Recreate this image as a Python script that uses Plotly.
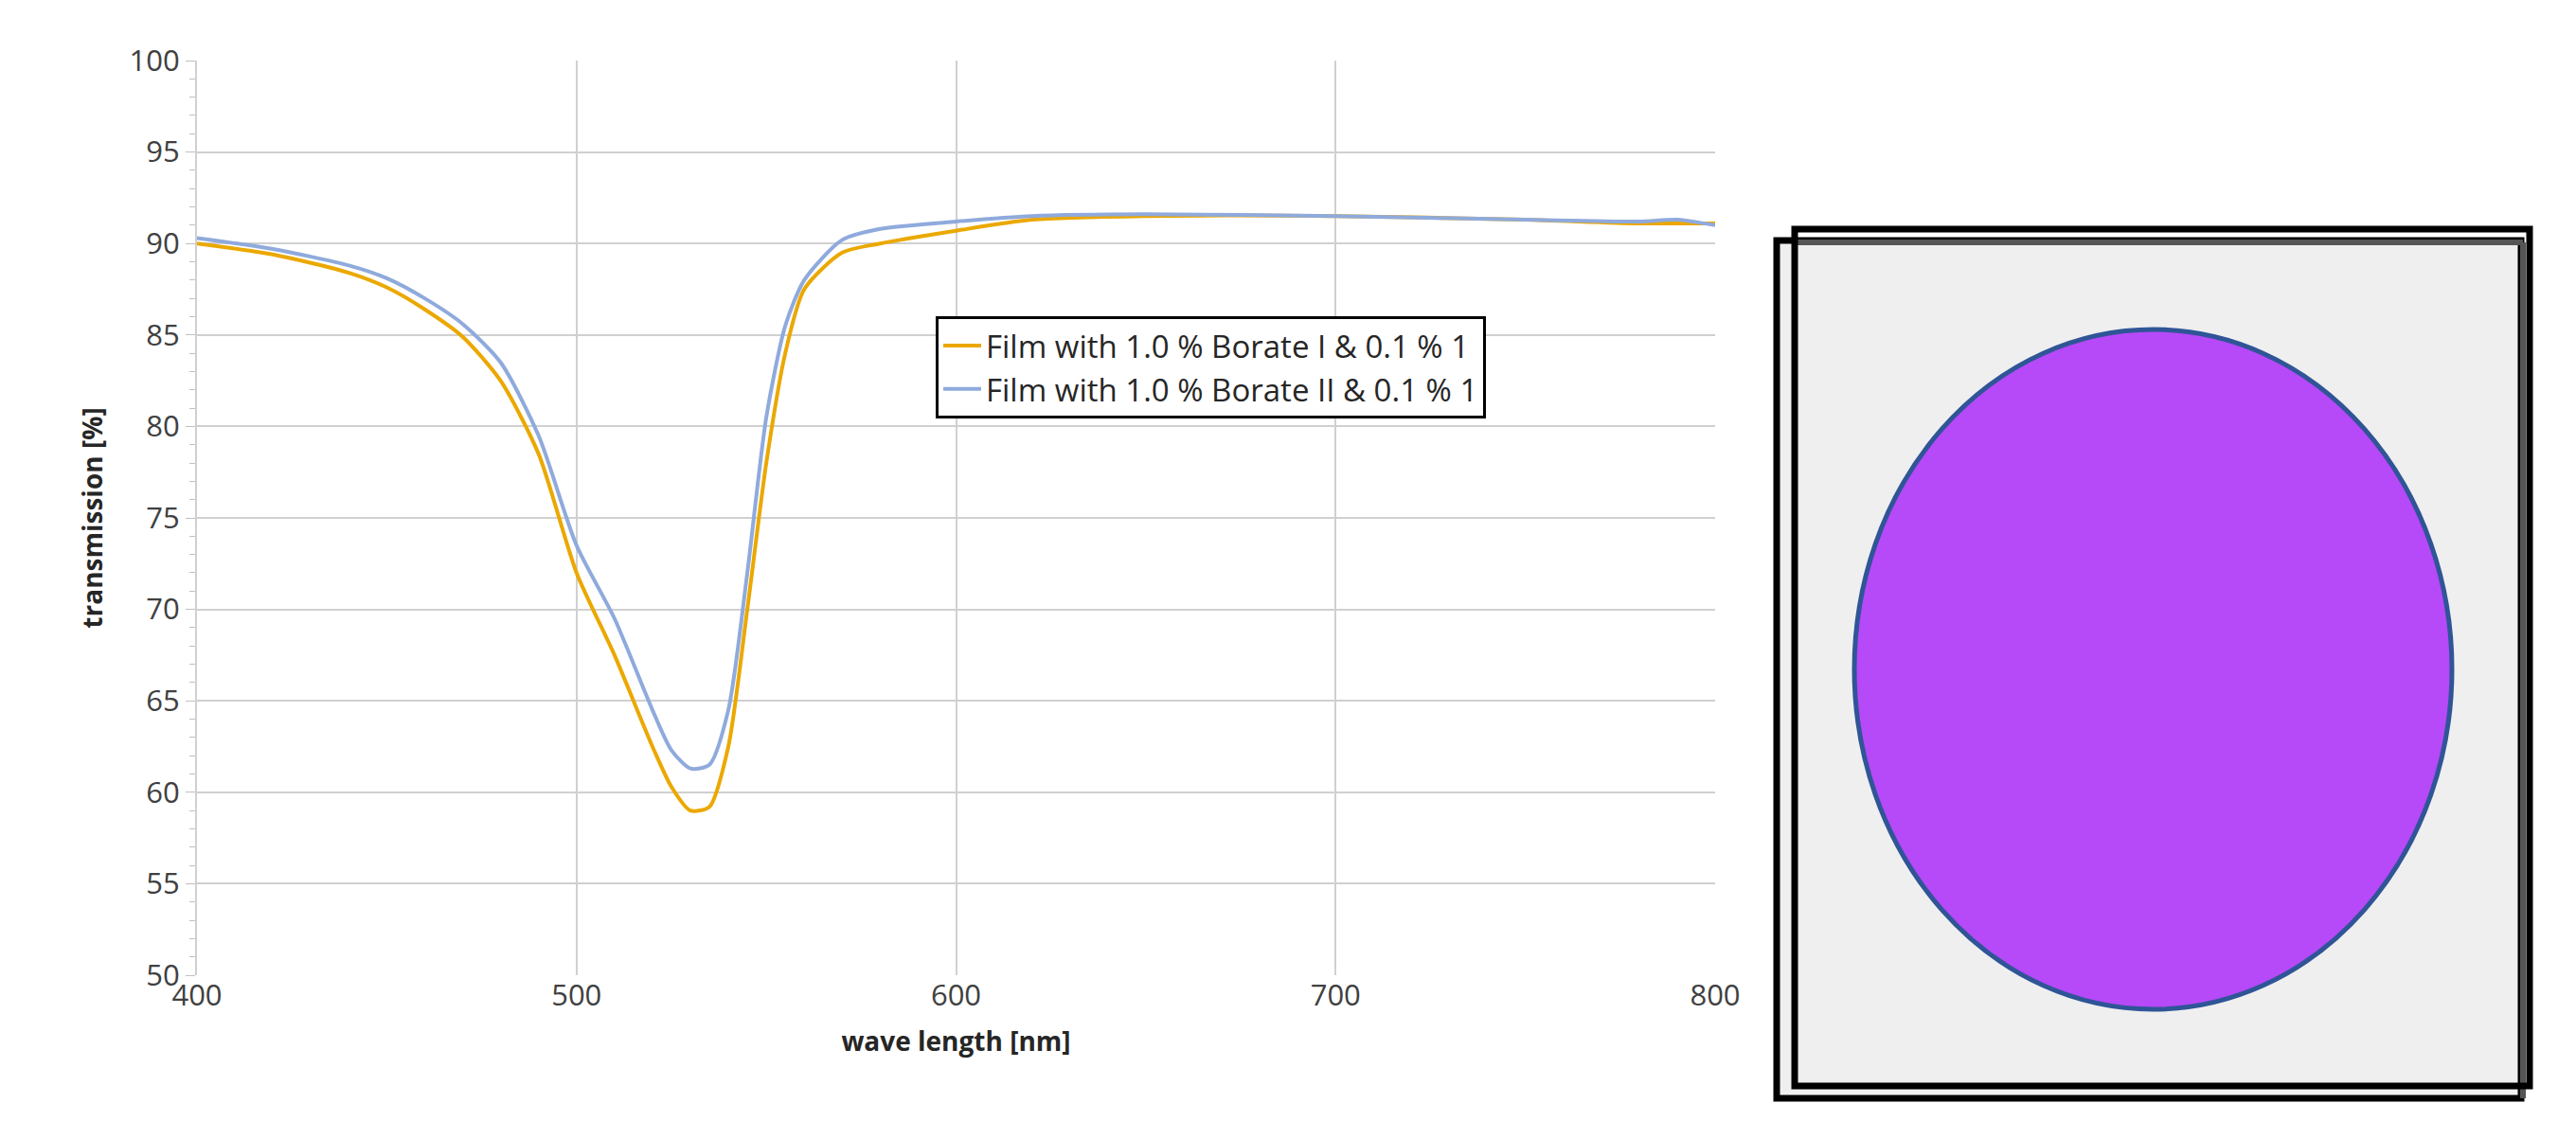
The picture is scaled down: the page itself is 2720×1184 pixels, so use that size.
import plotly.graph_objects as go

wl1 = [400,420,440,450,460,470,480,490,500,510,520,525,530,535,540,545,550,555,560,570,580,600,620,650,700,750,780,800]
t1 = [90.0,89.4,88.4,87.6,86.4,84.9,82.5,78.5,72.0,67.5,62.5,60.3,59.0,59.2,62.5,70.0,78.0,84.0,87.5,89.5,90.0,90.7,91.3,91.5,91.5,91.3,91.1,91.1]
wl2 = [400,420,440,450,460,470,480,490,500,510,520,525,530,535,540,545,550,555,560,570,580,600,620,650,700,750,780,790,800]
t2 = [90.3,89.7,88.8,88.1,87.0,85.6,83.5,79.5,73.5,69.5,64.5,62.3,61.3,61.5,64.5,72.0,80.5,85.5,88.0,90.2,90.8,91.2,91.5,91.6,91.5,91.3,91.2,91.3,91.0]
names = ["Film with 1.0 % Borate I & 0.1 % 1", "Film with 1.0 % Borate II & 0.1 % 1"]

fig = go.Figure()
fig.add_trace(go.Scatter(x=wl1, y=t1, mode="lines", name=names[0],
                         line=dict(color="#EBA800", width=4, shape="spline", smoothing=0.7)))
fig.add_trace(go.Scatter(x=wl2, y=t2, mode="lines", name=names[1],
                         line=dict(color="#8FAADC", width=4, shape="spline", smoothing=0.7)))

L, R, T, B = 200, 1803, 56, 1022
W, H = 2720, 1184
def px(X): return (X - L) / (R - L)
def py(Y): return (B - Y) / (B - T)

shapes = [
    dict(type="rect", xref="paper", yref="paper", x0=px(1868), x1=px(2654), y0=py(1152), y1=py(246),
         fillcolor="#EFEFEF", line=dict(color="black", width=7), layer="above"),
    dict(type="line", xref="paper", yref="paper", x0=px(1887), x1=px(2656), y0=py(248), y1=py(248),
         line=dict(color="#555555", width=6)),
    dict(type="line", xref="paper", yref="paper", x0=px(2656), x1=px(2656), y0=py(248), y1=py(1152),
         line=dict(color="#555555", width=6)),
    dict(type="rect", xref="paper", yref="paper", x0=px(1887), x1=px(2663), y0=py(1139), y1=py(234),
         fillcolor="rgba(0,0,0,0)", line=dict(color="black", width=7)),
    dict(type="circle", xref="paper", yref="paper", x0=px(1950), x1=px(2581), y0=py(1058), y1=py(340),
         fillcolor="#B649F8", line=dict(color="#2F5597", width=5)),
]

fig.update_layout(
    width=W, height=H, margin=dict(l=L, r=W - R, t=T, b=H - B),
    paper_bgcolor="white", plot_bgcolor="white",
    font=dict(family="Open Sans, Liberation Sans, sans-serif", color="#404040", size=31),
    shapes=shapes,
    legend=dict(x=px(980), y=py(326), xanchor="left", yanchor="top",
                bordercolor="black", borderwidth=3, bgcolor="white",
                font=dict(size=33, color="#262626"), tracegroupgap=40,
                itemwidth=40),
    xaxis=dict(range=[400, 800], dtick=100, showgrid=True, gridcolor="#D0D0D0", gridwidth=2,
               zeroline=False, showline=False, ticks="", tickfont=dict(size=31),
               title=dict(text="<b>wave length [nm]</b>", font=dict(size=28, color="#262626"), standoff=20)),
    yaxis=dict(range=[50, 100], dtick=5, showgrid=True, gridcolor="#D0D0D0", gridwidth=2,
               zeroline=False, showline=True, linecolor="#D0D0D0", linewidth=2,
               ticks="outside", ticklen=10, tickcolor="#C0C0C0",
               minor=dict(dtick=1, ticks="outside", ticklen=6, tickcolor="#C0C0C0"),
               tickfont=dict(size=31),
               title=dict(text="<b>transmission [%]</b>", font=dict(size=28, color="#262626"), standoff=20)),
)

fig.write_html("out.html")
